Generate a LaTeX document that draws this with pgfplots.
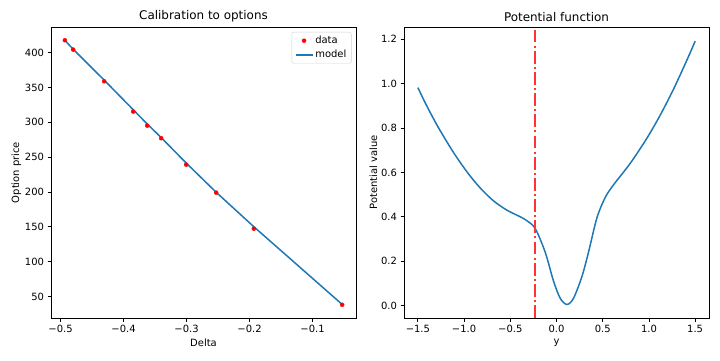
\documentclass[border=0pt]{standalone}
\usepackage{fontspec}
\setmainfont{DejaVu Sans}
\usepackage{pgfplots}
\pgfplotsset{compat=1.18}
\definecolor{mplblue}{HTML}{1F77B4}
\definecolor{vred}{rgb}{1,0.2,0.2}
\begin{document}
\begin{tikzpicture}[x=1bp,y=1bp]
\useasboundingbox (0,0) rectangle (720,360);
\pgfplotsset{
  every axis/.append style={
    scale only axis,
    width=305bp, height=291bp,
    anchor=south west,
    axis line style={line width=0.8bp},
    tick align=outside,
    major tick length=3.5bp,
    every tick/.style={black, line width=0.8bp},
    xtick pos=bottom, ytick pos=left,
    tick label style={font=\fontsize{10}{12}\selectfont},
    label style={font=\fontsize{10}{12}\selectfont},
    title style={font=\fontsize{12}{14}\selectfont, at={(0.5,1)}, anchor=south, yshift=-4bp},
    /pgf/number format/assume math mode=true,
  }
}
\begin{axis}[
  at={(51bp,42bp)},
  xmin=-0.5152, xmax=-0.0310,
  ymin=19.0, ymax=436.7,
  xtick={-0.5,-0.4,-0.3,-0.2,-0.1},
  xticklabels={−0.5,−0.4,−0.3,−0.2,−0.1},
  ytick={50,100,150,200,250,300,350,400},
  yticklabels={50,100,150,200,250,300,350,400},
  xlabel={Delta}, ylabel={Option price},
  ylabel style={yshift=-3bp},
  title={Calibration to options},
  legend cell align=left,
  legend style={at={(1,1)}, anchor=north east, xshift=-4.5bp, yshift=-5bp,
    draw=black!18, rounded corners=2bp, font=\fontsize{10}{12}\selectfont,
    row sep=1bp},
]
\addplot[only marks, mark=*, mark size=2bp, color=red, mark options={fill=red, draw=red}] coordinates {
(-0.4932,417.7) (-0.4800,404.3) (-0.4308,358.8) (-0.3847,315.3) (-0.3625,295.1)
(-0.3403,277.0) (-0.3006,239.1) (-0.2530,198.9) (-0.1932,147.2) (-0.0530,38.0)
};
\addlegendentry{data}
\addplot[color=mplblue, line width=1.5bp] coordinates {
(-0.4932,417.5) (-0.4800,404.8) (-0.4308,360.5) (-0.3847,318.0) (-0.3625,297.5)
(-0.3403,278.0) (-0.3006,241.5) (-0.2530,199.5) (-0.1932,150.0) (-0.0530,38.5)
};
\addlegendentry{model}
\end{axis}
\begin{axis}[
  at={(404bp,42bp)},
  xmin=-1.65, xmax=1.65,
  ymin=-0.056, ymax=1.255,
  xtick={-1.5,-1.0,-0.5,0,0.5,1.0,1.5},
  xticklabels={−1.5,−1.0,−0.5,0.0,0.5,1.0,1.5},
  ytick={0,0.2,0.4,0.6,0.8,1.0,1.2},
  yticklabels={0.0,0.2,0.4,0.6,0.8,1.0,1.2},
  xlabel={y}, ylabel={Potential value},
  ylabel style={yshift=-3bp},
  title={Potential function},
]
\addplot[color=mplblue, line width=1.5bp, smooth] coordinates {
(-1.50,0.982) (-1.42,0.913) (-1.34,0.849) (-1.26,0.789) (-1.115,0.690)
(-0.97,0.603) (-0.826,0.530) (-0.682,0.472) (-0.537,0.430) (-0.393,0.400)
(-0.32,0.382) (-0.23,0.347) (-0.122,0.240) (-0.032,0.110) (0.040,0.033)
(0.113,0.005) (0.184,0.033) (0.275,0.131) (0.346,0.240) (0.437,0.395)
(0.527,0.487) (0.617,0.544) (0.798,0.641) (0.978,0.754) (1.122,0.858)
(1.266,0.975) (1.411,1.106) (1.50,1.191)
};
\addplot[color=vred, line width=2bp, dash pattern=on 12.8bp off 3.2bp on 2bp off 3.2bp] coordinates {(-0.23,-0.056) (-0.23,1.255)};
\end{axis}
\end{tikzpicture}
\end{document}
